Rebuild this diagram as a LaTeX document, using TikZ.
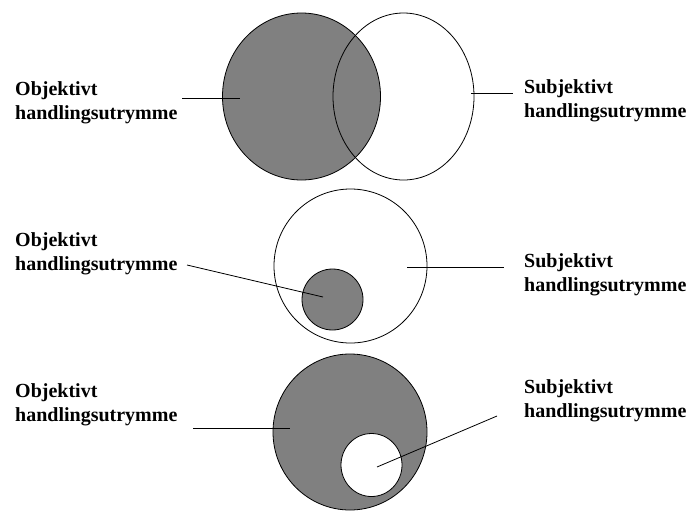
\documentclass[tikz,border=0pt]{standalone}
\usepackage{fontspec}
\setmainfont{Liberation Serif}
\usetikzlibrary{shapes.geometric}
\definecolor{shade}{HTML}{808080}
\tikzset{
  blob/.style={ellipse, draw=black, line width=0.8pt, inner sep=0pt},
  grayblob/.style={blob, fill=shade},
  whiteblob/.style={blob, fill=white},
  ringblob/.style={blob},
  lbl/.style={font=\fontsize{20}{24}\selectfont\bfseries, align=left, inner sep=0pt, anchor=base west},
  conn/.style={draw=black, line width=0.8pt}
}
\begin{document}
\begin{tikzpicture}[x=1pt,y=-1pt]
\useasboundingbox (0,0) rectangle (688,512);
% ---- top ----
\node[grayblob, minimum width=158pt, minimum height=167pt] (tg) at (301.5,96.5) {};
\node[ringblob, minimum width=141pt, minimum height=167pt] (tw) at (403.5,96.5) {};
\node[lbl] (tl) at (15,119) {Objektivt\\handlingsutrymme};
\node[lbl] (tr) at (524,117) {Subjektivt\\handlingsutrymme};
\coordinate (tla) at (182,98);
\coordinate (tlb) at (240,98);
\coordinate (tra) at (471,93);
\coordinate (trb) at (513,93);
\draw[conn] (tla) -- (tlb);
\draw[conn] (tra) -- (trb);
% ---- middle ----
\node[whiteblob, minimum width=153pt, minimum height=154pt] (mw) at (350.5,266) {};
\node[grayblob, minimum width=61pt, minimum height=61pt] (mg) at (332.5,299.5) {};
\node[lbl] (ml) at (15,270) {Objektivt\\handlingsutrymme};
\node[lbl] (mr) at (524,291) {Subjektivt\\handlingsutrymme};
\coordinate (mla) at (187,265);
\coordinate (mlb) at (323,297);
\coordinate (mra) at (407,267);
\coordinate (mrb) at (504,267);
\draw[conn] (mla) -- (mlb);
\draw[conn] (mra) -- (mrb);
% ---- bottom ----
\node[grayblob, minimum width=154pt, minimum height=156pt] (bg) at (350,432) {};
\node[whiteblob, minimum width=61pt, minimum height=63pt] (bw) at (371.5,465) {};
\node[lbl] (bl) at (15,421) {Objektivt\\handlingsutrymme};
\node[lbl] (br) at (524,417) {Subjektivt\\handlingsutrymme};
\coordinate (bla) at (193,428);
\coordinate (blb) at (290,428);
\coordinate (bra) at (377,467);
\coordinate (brb) at (497,416);
\draw[conn] (bla) -- (blb);
\draw[conn] (bra) -- (brb);
\end{tikzpicture}
\end{document}
